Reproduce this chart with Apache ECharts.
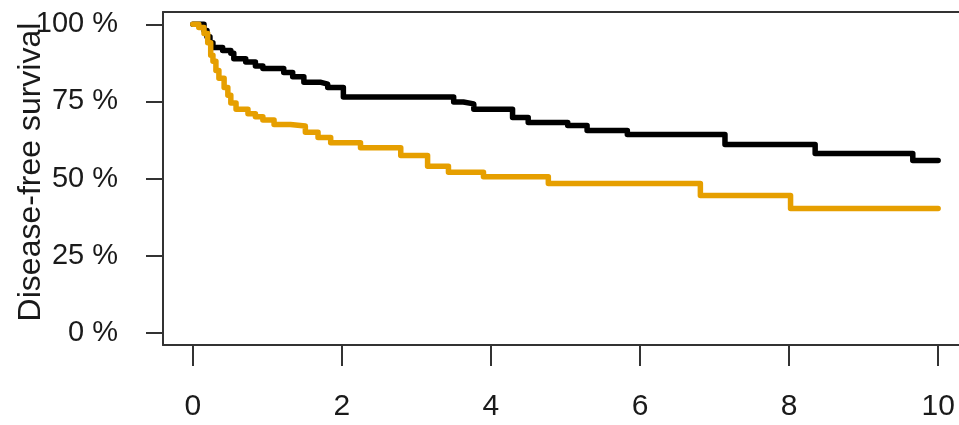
<!DOCTYPE html>
<html>
<head>
<meta charset="utf-8">
<script src="https://cdn.jsdelivr.net/npm/echarts@6/dist/echarts.min.js"></script>
<style>
html,body{margin:0;padding:0;background:#fff;}
#chart{width:959px;height:425px;}
</style>
</head>
<body>
<div id="chart"></div>
<script>
// Years since start
var blackTimes = [0, 0.11, 0.15, 0.19, 0.23, 0.27, 0.40, 0.51, 0.55, 0.71, 0.84, 0.94, 1.22, 1.34, 1.49, 1.72, 1.81, 2.02, 3.50, 3.63, 3.77, 4.29, 4.50, 5.03, 5.29, 5.83, 7.14, 8.35, 9.66, 10];
var blackSurv  = [100, 100, 98, 96, 94, 92.5, 91.5, 90.6, 88.8, 87.8, 86.5, 85.7, 84.4, 83, 81.2, 80.6, 79.5, 76.4, 74.8, 74.2, 72.5, 69.8, 68.2, 67.2, 65.6, 64.3, 61, 58.1, 55.8, 55.8];

var orangeTimes = [0, 0.08, 0.15, 0.20, 0.24, 0.27, 0.31, 0.35, 0.42, 0.47, 0.51, 0.58, 0.74, 0.84, 0.94, 1.09, 1.31, 1.51, 1.68, 1.85, 2.25, 2.79, 3.15, 3.43, 3.90, 4.77, 6.81, 8.02, 10];
var orangeSurv  = [100, 99, 97, 94, 90, 88, 85, 82.5, 79.5, 77, 74.5, 72.5, 71, 70, 69, 67.5, 67, 65, 63.3, 61.6, 60, 57.5, 54, 52, 50.6, 48.4, 44.5, 40.3, 40.3];

var xTicks = [0, 2, 4, 6, 8, 10];
var yTicks = [0, 25, 50, 75, 100];
var yTitle = 'Disease-free survival';

function pairs(t, s) { return t.map(function (v, i) { return [v, s[i]]; }); }

var chart = echarts.init(document.getElementById('chart'), null, {renderer: 'canvas'});
var font = 'Liberation Sans, Arial, sans-serif';
var frame = {color: '#333333', width: 2};
chart.setOption({
  animation: false,
  backgroundColor: '#ffffff',
  grid: {left: 163, top: 12, right: 0, bottom: 80, show: false},
  xAxis: [{
    type: 'value', min: -0.4, max: 10.28, position: 'bottom',
    axisLine: {show: true, onZero: false, lineStyle: frame},
    splitLine: {show: false},
    axisTick: {show: true, inside: false, length: 21, customValues: xTicks, lineStyle: frame},
    axisLabel: {show: true, customValues: xTicks, margin: 47,
      fontSize: 30, fontFamily: font, color: '#1a1a1a'}
  }, {
    type: 'value', min: -0.4, max: 10.28, position: 'top',
    axisLine: {show: true, onZero: false, lineStyle: frame},
    splitLine: {show: false}, axisTick: {show: false}, axisLabel: {show: false}
  }],
  yAxis: {
    type: 'value', min: -4, max: 104,
    axisLine: {show: true, onZero: false, lineStyle: frame},
    splitLine: {show: false},
    axisTick: {show: true, inside: false, length: 17, customValues: yTicks, lineStyle: frame},
    axisLabel: {show: true, customValues: yTicks, margin: 45,
      fontSize: 29, fontFamily: font, color: '#1a1a1a',
      formatter: function (v) { return v + ' %'; }}
  },
  graphic: [{
    type: 'text',
    x: 31, y: 172,
    rotation: Math.PI / 2,
    style: {
      text: yTitle, fontSize: 32, fontFamily: font, fill: '#1a1a1a',
      textAlign: 'center', textVerticalAlign: 'middle'
    }
  }],
  series: [
    {
      type: 'line', step: 'end', symbol: 'none', clip: false,
      data: pairs(blackTimes, blackSurv),
      lineStyle: {color: '#000000', width: 5.5, join: 'round', cap: 'round'}
    },
    {
      type: 'line', step: 'end', symbol: 'none', clip: false,
      data: pairs(orangeTimes, orangeSurv),
      lineStyle: {color: '#E69F00', width: 5.5, join: 'round', cap: 'round'}
    }
  ]
});
</script>
</body>
</html>
